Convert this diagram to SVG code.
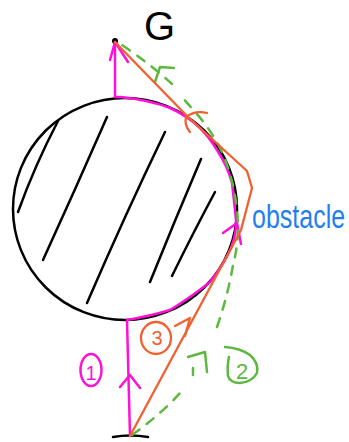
<svg xmlns="http://www.w3.org/2000/svg" width="349" height="442" viewBox="0 0 349 442">
<style>
.k{fill:none;stroke:#000;stroke-width:2.5;stroke-linecap:round;stroke-linejoin:round}
.m{fill:none;stroke:#ff10d8;stroke-width:2.5;stroke-linecap:round;stroke-linejoin:round}
.o{fill:none;stroke:#f2602e;stroke-width:2.3;stroke-linecap:round;stroke-linejoin:round}
.g{fill:none;stroke:#5cb83e;stroke-width:2.5;stroke-linecap:round;stroke-linejoin:round}
.gd{stroke-dasharray:9 9}
.t{font-family:"Liberation Sans",Arial,sans-serif}
</style>
<rect width="349" height="442" fill="#fff"/>
<g id="obstacle">
<ellipse class="k" cx="125" cy="209" rx="112" ry="111"/>
<path class="k" d="M58 121 Q35 165 18 212"/>
<path class="k" d="M107 117 Q75 190 43 260"/>
<path class="k" d="M165 132 Q125 215 87 303"/>
<path class="k" d="M201 159 Q175 220 150 282"/>
<path class="k" d="M215 192 Q192 235 172 276"/>
<text class="t" transform="translate(252 228) scale(1 1.35)" x="0" y="0" font-size="25" fill="#1f7ff0">obstacle</text>
</g>
<g id="start">
<path class="k" d="M113 437 Q130 434 148 437"/>
</g>
<g id="goal">
<circle cx="115" cy="41" r="3" fill="#000"/>
<text class="t" x="144" y="40" font-size="40" fill="#000">G</text>
</g>
<g id="connectors">
<g id="path1">
<path class="m" d="M130 436 L127 320 Q150 316 170 310 Q190 298 210 282 Q224 264 231 248 Q237 232 236 220 Q234 200 232 183 Q228 167 217 150 Q210 138 200 128 Q188 116 170 108 Q150 100 120 97 L115 97 L115 42"/>
<path class="m" d="M120 387 L130 375 L140 388"/>
<path class="m" d="M223 233 L237 223 L241 244"/>
<path class="m" d="M110 60 L115 42 L128 62"/>
</g>
<g id="path2">
<path class="g gd" d="M132 435 Q160 415 180 393 M193 375 L193 368 M217 327 Q228 295 233 265 Q240 240 237 210 Q234 180 222 152 Q210 128 195 112 Q188 104 183 98 M172 84 Q150 64 122 45"/>
<path class="g" d="M188 357 L205 352 L207 372"/>
<path class="g" d="M155 82 L160 67 L174 68"/>
</g>
<g id="path3">
<path class="o" d="M130 436 L241 230 L252 188 L247 171 L188 117 L115 42"/>
<path class="o" d="M175 326 L190 318 L185 336"/>
<path class="o" d="M207 113 Q195 110 186 117 Q184 125 190 132"/>
</g>
</g>
<g id="label1">
<ellipse class="m" cx="91" cy="370" rx="10.5" ry="16"/>
<text class="t" x="91" y="380" font-size="20" fill="#ff10d8" text-anchor="middle">1</text>
</g>
<g id="label2">
<path class="g" d="M225 347 Q240 348 250 355 Q259 363 257 373 Q252 382 240 383 Q230 383 228 376 Q227 365 229 357"/>
<text class="t" x="242" y="379" font-size="22" fill="#5cb83e" text-anchor="middle">2</text>
</g>
<g id="label3">
<ellipse class="o" cx="156" cy="338" rx="15" ry="16"/>
<text class="t" x="157" y="345" font-size="20" fill="#f2602e" text-anchor="middle">3</text>
</g>
</svg>
